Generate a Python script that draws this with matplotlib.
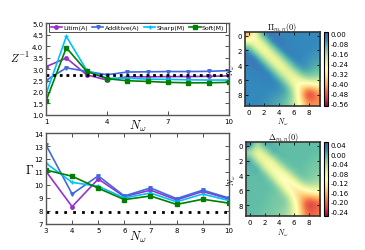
import matplotlib
matplotlib.use("Agg")
import matplotlib.pyplot as plt
import numpy as np

plt.rcParams['mathtext.fontset'] = 'cm'
plt.rcParams['font.family'] = ['DejaVu Sans']

# ---- data ----
nw_top = [1, 2, 3, 4, 5, 6, 7, 8, 9, 10]
z_litim = [3.10, 3.48, 2.75, 2.52, 2.66, 2.66, 2.67, 2.67, 2.68, 2.70]
z_additive = [2.50, 3.05, 2.90, 2.75, 2.87, 2.88, 2.89, 2.89, 2.90, 2.93]
z_sharp = [1.90, 4.42, 2.95, 2.60, 2.60, 2.56, 2.55, 2.53, 2.52, 2.52]
z_soft = [1.60, 3.93, 2.90, 2.58, 2.49, 2.46, 2.42, 2.40, 2.40, 2.42]
z_ref = 2.74

nw_bot = [3, 4, 5, 6, 7, 8, 9, 10]
g_litim = [11.05, 8.33, 10.46, 9.10, 9.60, 8.85, 9.50, 8.92]
g_additive = [13.08, 9.30, 10.70, 9.15, 9.77, 8.95, 9.60, 9.00]
g_sharp = [11.67, 10.20, 9.90, 9.00, 9.38, 8.70, 9.30, 8.80]
g_soft = [11.15, 10.67, 9.75, 8.87, 9.15, 8.50, 8.90, 8.60]
g_ref = 7.95

labels = ['Litim(A)', 'Additive(A)', 'Sharp(M)', 'Soft(M)']
colors = ['darkorchid', 'royalblue', 'deepskyblue', 'green']
markers = ['o', 'v', '+', 's']

pi_mat = [
    [-0.42, -0.22, -0.05, -0.02, -0.05, -0.05, -0.05, -0.05, -0.05, -0.05],
    [-0.22, -0.30, -0.21, -0.04, -0.02, -0.05, -0.05, -0.05, -0.05, -0.05],
    [-0.05, -0.21, -0.30, -0.20, -0.05, -0.03, -0.05, -0.05, -0.05, -0.06],
    [-0.02, -0.04, -0.20, -0.29, -0.20, -0.05, -0.04, -0.05, -0.06, -0.07],
    [-0.05, -0.02, -0.05, -0.20, -0.29, -0.20, -0.06, -0.05, -0.07, -0.09],
    [-0.05, -0.05, -0.03, -0.05, -0.20, -0.27, -0.20, -0.08, -0.09, -0.12],
    [-0.05, -0.05, -0.05, -0.04, -0.06, -0.20, -0.29, -0.23, -0.17, -0.18],
    [-0.05, -0.05, -0.05, -0.05, -0.05, -0.08, -0.23, -0.36, -0.40, -0.34],
    [-0.05, -0.05, -0.05, -0.06, -0.07, -0.09, -0.17, -0.40, -0.57, -0.44],
    [-0.05, -0.05, -0.06, -0.07, -0.09, -0.12, -0.18, -0.34, -0.44, -0.42],
]
delta_mat = [
    [0.045, -0.06, 0.02, -0.01, -0.01, -0.01, -0.01, -0.01, -0.01, -0.01],
    [-0.06, -0.09, -0.07, 0.015, -0.01, -0.01, -0.01, -0.01, -0.01, -0.01],
    [0.02, -0.07, -0.10, -0.08, 0.00, -0.01, -0.01, -0.01, -0.01, -0.02],
    [-0.01, 0.015, -0.08, -0.11, -0.08, -0.01, -0.01, -0.01, -0.02, -0.02],
    [-0.01, -0.01, 0.00, -0.08, -0.12, -0.09, -0.02, -0.01, -0.02, -0.03],
    [-0.01, -0.01, -0.01, -0.01, -0.09, -0.13, -0.10, -0.03, -0.03, -0.04],
    [-0.01, -0.01, -0.01, -0.01, -0.02, -0.10, -0.14, -0.12, -0.08, -0.08],
    [-0.01, -0.01, -0.01, -0.02, -0.02, -0.03, -0.12, -0.17, -0.18, -0.16],
    [-0.01, -0.01, -0.01, -0.02, -0.02, -0.03, -0.08, -0.18, -0.25, -0.21],
    [-0.01, -0.01, -0.02, -0.02, -0.03, -0.04, -0.08, -0.16, -0.21, -0.19],
]
pi_ticks = [0.00, -0.08, -0.16, -0.24, -0.32, -0.40, -0.48, -0.56]
delta_ticks = [0.04, 0.00, -0.04, -0.08, -0.12, -0.16, -0.20, -0.24]

fig = plt.figure(figsize=(3.65, 2.51), dpi=100)

def style_axes(ax):
    for s in ax.spines.values():
        s.set_color('#555555')
        s.set_linewidth(1.0)
    ax.tick_params(direction='in', length=3, width=0.6, top=True, right=True,
                   labelsize=5, color='#333333', pad=2)

# ---- top line plot ----
ax1 = fig.add_axes([0.126, 0.538, 0.501, 0.366])
for ys, lab, c, m in zip([z_litim, z_additive, z_sharp, z_soft], labels, colors, markers):
    ax1.plot(nw_top, ys, color=c, marker=m, ms=2.5, lw=1.2, mew=1.0, label=lab)
ax1.plot([nw_top[0], nw_top[-1]], [z_ref, z_ref], color='black', lw=2,
         linestyle=(0, (1, 1.4)))
ax1.set_xlim(1, 10)
ax1.set_ylim(1.0, 5.0)
ax1.set_xticks([1, 4, 7, 10])
ax1.set_yticks(np.arange(1.0, 5.01, 0.5))
style_axes(ax1)
ax1.set_ylabel(r'$Z^{-1}$', rotation=0, fontsize=8)
ax1.yaxis.set_label_coords(-0.14, 0.56)
ax1.set_xlabel(r'$N_\omega$', fontsize=9)
ax1.xaxis.set_label_coords(0.5, -0.03)
leg = ax1.legend(loc='upper left', bbox_to_anchor=(0.015, 0.96, 0.97, 0.04),
                 mode='expand', ncol=4, fontsize=4.5, handlelength=1.8,
                 handletextpad=0.2, columnspacing=0.4, borderpad=0.3,
                 borderaxespad=0, fancybox=False, framealpha=1)
leg.get_frame().set_edgecolor('#333333')
leg.get_frame().set_linewidth(0.6)

# ---- bottom line plot ----
ax2 = fig.add_axes([0.126, 0.104, 0.501, 0.362])
for ys, lab, c, m in zip([g_litim, g_additive, g_sharp, g_soft], labels, colors, markers):
    ax2.plot(nw_bot, ys, color=c, marker=m, ms=2.5, lw=1.2, mew=1.0, label=lab)
ax2.plot([nw_bot[0], nw_bot[-1]], [g_ref, g_ref], color='black', lw=2,
         linestyle=(0, (1, 2.2)))
ax2.set_xlim(3, 10)
ax2.set_ylim(7, 14)
ax2.set_xticks(nw_bot)
ax2.set_yticks(range(7, 15))
style_axes(ax2)
ax2.set_ylabel(r'$\Gamma$', rotation=0, fontsize=9)
ax2.yaxis.set_label_coords(-0.09, 0.53)
ax2.set_xlabel(r'$N_\omega$', fontsize=9)
ax2.xaxis.set_label_coords(0.5, -0.05)

# ---- heatmaps ----
def heat(rect, crect, mat, vmin, vmax, ticks, title):
    ax = fig.add_axes(rect)
    im = ax.imshow(np.array(mat), cmap='Spectral', vmin=vmin, vmax=vmax,
                   interpolation='bicubic', aspect='auto')
    ax.set_xticks([0, 2, 4, 6, 8])
    ax.set_yticks([0, 2, 4, 6, 8])
    for s in ax.spines.values():
        s.set_color('#333333')
        s.set_linewidth(1.2)
    ax.tick_params(direction='in', length=2.5, width=0.6, top=True, right=True,
                   labelsize=5, pad=2)
    ax.set_title(title, fontsize=6, pad=2)
    ax.set_xlabel(r'$N_\omega$', fontsize=5.5, labelpad=1)
    ax.set_ylabel(r'$N_\omega$', fontsize=5.5, labelpad=0.5)
    cax = fig.add_axes(crect)
    cb = fig.colorbar(im, cax=cax, ticks=ticks)
    cb.ax.tick_params(labelsize=5, length=0, pad=2)
    cb.ax.set_yticklabels(['%.2f' % t if t != 0 else '0.00' for t in ticks])
    cb.outline.set_linewidth(0.8)
    return ax

heat([0.671, 0.574, 0.206, 0.295], [0.888, 0.574, 0.011, 0.295],
     pi_mat, -0.58, 0.01, pi_ticks, r'$\Pi_{m,n}(0)$')
heat([0.674, 0.135, 0.203, 0.295], [0.888, 0.135, 0.011, 0.295],
     delta_mat, -0.26, 0.05, delta_ticks, r'$\Delta_{m,n}(0)$')

fig.savefig('out.png', dpi=100)
